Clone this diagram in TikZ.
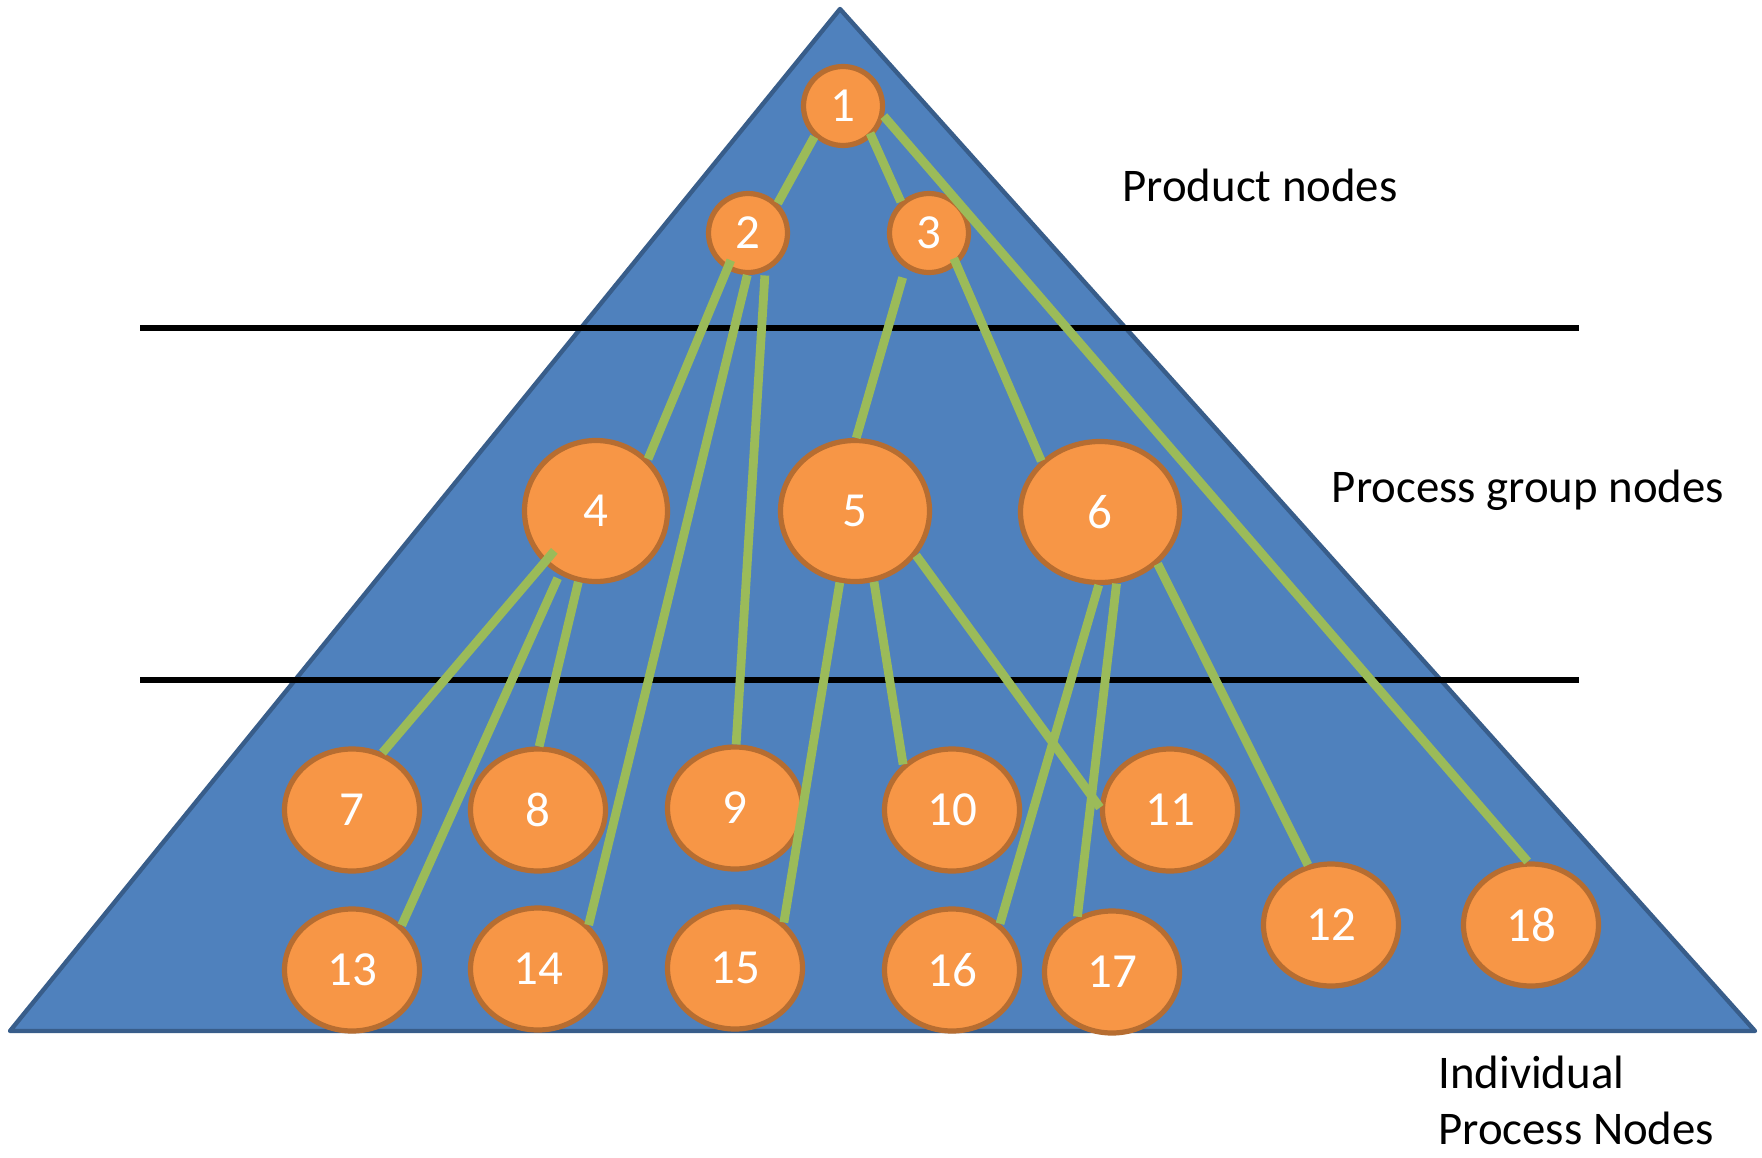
\documentclass[tikz,border=0pt]{standalone}
\usepackage{fontspec}
\setmainfont{Carlito}
\usetikzlibrary{shapes.geometric}
\definecolor{triblue}{HTML}{4F81BD}
\definecolor{triedge}{HTML}{385D8A}
\definecolor{nodefill}{HTML}{F79646}
\definecolor{nodeedge}{HTML}{B66D31}
\definecolor{linkgreen}{HTML}{9BBB59}

\begin{document}
\begin{tikzpicture}[x=0.5pt,y=-0.5pt]
	\tikzstyle{every node}+=[inner sep=0pt]
	\tikzstyle{pnode}=[ellipse,draw=nodeedge,fill=nodefill,line width=2.6pt,text=white,font=\fontsize{24.5}{30}\selectfont]
	\tikzstyle{prodnode}=[pnode,minimum width=39.5pt,minimum height=39.5pt]
	\tikzstyle{groupnode}=[pnode,minimum width=71.5pt,minimum height=70.5pt]
	\tikzstyle{leafnode}=[pnode,minimum width=67.5pt,minimum height=61pt]
	\tikzstyle{greenlink}=[draw=linkgreen,line width=4.4pt]
	\tikzstyle{lbl}=[font=\fontsize{23.4}{28}\selectfont]
	\useasboundingbox (0,0) rectangle (1762,1157);
	\coordinate (top) at (840,9);
	\coordinate (bl) at (10,1031);
	\coordinate (br) at (1755,1031);
	\filldraw[fill=triblue,draw=triedge,line width=2.2pt,line join=round] (top) -- (br) -- (bl) -- cycle;
	\coordinate (sepAl) at (140,328);
	\coordinate (sepAr) at (1579,328);
	\coordinate (sepBl) at (140,680);
	\coordinate (sepBr) at (1579,680);
	\draw[line width=3pt] (sepAl) -- (sepAr);
	\draw[line width=3pt] (sepBl) -- (sepBr);
	\node[prodnode] (n1) at (843,106) {1};
	\node[prodnode] (n2) at (748,233) {2};
	\node[prodnode] (n3) at (929,233) {3};
	\node[groupnode] (n4) at (596,511) {4};
	\node[groupnode,minimum width=74.5pt] (n5) at (855,511) {5};
	\node[groupnode,minimum width=79.5pt] (n6) at (1100,512) {6};
	\node[leafnode] (n7) at (352,810) {7};
	\node[leafnode] (n8) at (538,810) {8};
	\node[leafnode] (n9) at (735,808) {9};
	\node[leafnode] (n10) at (952,810) {10};
	\node[leafnode] (n11) at (1170,810) {11};
	\node[leafnode] (n12) at (1331,925) {12};
	\node[leafnode] (n13) at (352,970) {13};
	\node[leafnode] (n14) at (538,969) {14};
	\node[leafnode] (n15) at (735,968) {15};
	\node[leafnode] (n16) at (952,970) {16};
	\node[leafnode] (n17) at (1112,972) {17};
	\node[leafnode] (n18) at (1531,925) {18};
	\draw[greenlink] (n1.227) -- (n2.45);
	\draw[greenlink,shorten <=-2pt] (n1.313) -- (n3.132);
	\draw[greenlink] (n1.346) -- (n18.93);
	\draw[greenlink,shorten <=-5pt] (n2.240) -- (n4.45);
	\draw[greenlink] (n2.269) -- (n14.41);
	\draw[greenlink,shorten <=2pt] (n2.294) -- (n9.89);
	\draw[greenlink,shorten <=5pt] (n3.236) -- (n5.89);
	\draw[greenlink,shorten <=-3.5pt] (n3.311) -- (n6.139);
	\draw[greenlink,shorten <=-8pt] (n4.225) -- (n7.62);
	\draw[greenlink,shorten <=2pt] (n4.240) -- (n13.42);
	\draw[greenlink] (n4.256) -- (n8.89);
	\draw[greenlink] (n5.258) -- (n15.43);
	\draw[greenlink] (n5.285) -- (n10.137);
	\draw[greenlink] (n5.324) -- (n11.178);
	\draw[greenlink] (n6.269) -- (n16.44);
	\draw[greenlink] (n6.283) -- (n17.122);
	\draw[greenlink] (n6.318) -- (n12.111);
	\node[lbl,anchor=base] (lblProd) at (1260,201) {Product nodes};
	\node[lbl,anchor=base] (lblGroup) at (1528,502) {Process group nodes};
	\node[lbl,align=left,anchor=base west] (lblLeaf) at (1438,1144) {Individual\\Process Nodes};
\end{tikzpicture}
\end{document}
